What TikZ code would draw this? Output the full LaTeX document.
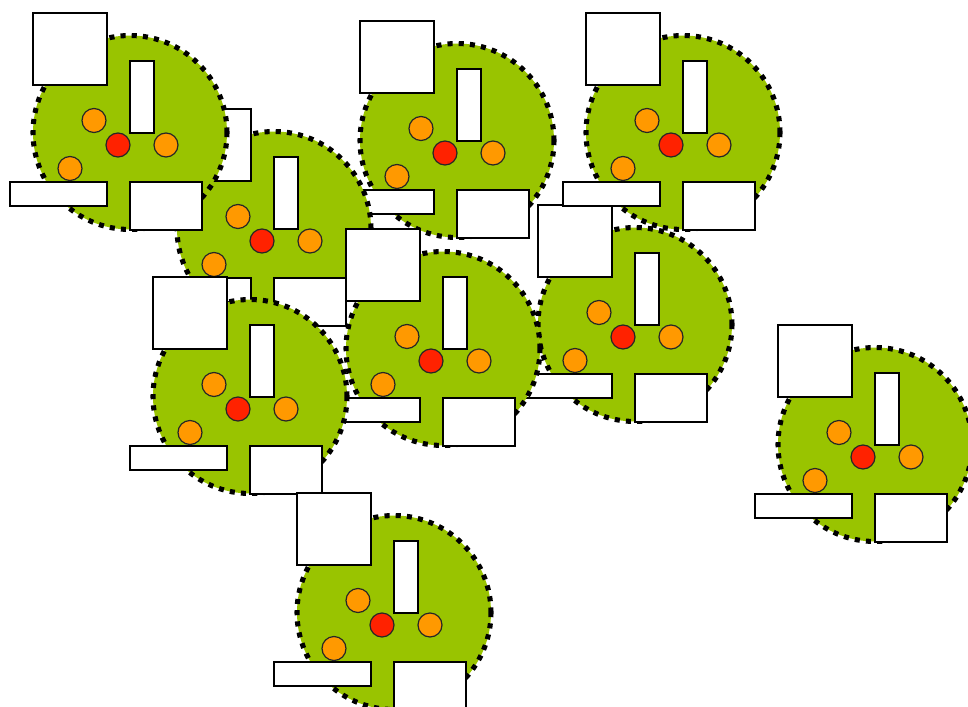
\documentclass[tikz,border=0pt]{standalone}
\definecolor{leaf}{HTML}{99C400}
\definecolor{dotorange}{HTML}{FF9900}
\definecolor{dotred}{HTML}{FF2200}
\begin{document}
\begin{tikzpicture}[x=0.75pt,y=-0.75pt]
  \tikzset{
    patch/.style={circle, fill=leaf, draw=black, line width=3.8pt, dash pattern=on 3.8pt off 4.6pt, minimum size=145.5pt, inner sep=0pt},
    slab/.style={draw=black, fill=white, line width=1.2pt, inner sep=0pt},
    bead/.style={circle, draw=black!85, line width=0.9pt, minimum size=18pt, inner sep=0pt}
  }
  \useasboundingbox (0,0) rectangle (968,707);
  \clip (0,0) rectangle (968,707);
  % one cluster per entry, drawn back to front
  \foreach \n/\x/\y in {c/445/153, b/262/241, a/118/145, f/623/337, e/431/361, g/238/409, d/671/145, h/863/457, i/382/625} {
    \node[patch] (zone-\n) at ({\x+12},{\y-12.5}) {};
    \node[slab, minimum width=55.5pt, minimum height=54pt] (top-\n) at ({\x-48},{\y-96}) {};
    \node[slab, minimum width=18pt, minimum height=54pt] (post-\n) at ({\x+24},{\y-48}) {};
    \node[slab, minimum width=72.75pt, minimum height=18pt] (bar-\n) at ({\x-59.5},{\y+49}) {};
    \node[slab, minimum width=54pt, minimum height=36pt] (base-\n) at ({\x+48},{\y+61}) {};
    \node[bead, fill=dotorange] (o1-\n) at ({\x-24},{\y-24.5}) {};
    \node[bead, fill=dotorange] (o2-\n) at ({\x+48},{\y}) {};
    \node[bead, fill=dotorange] (o3-\n) at ({\x-48},{\y+23.5}) {};
    \node[bead, fill=dotred] (hub-\n) at (\x,\y) {};
  }
\end{tikzpicture}
\end{document}
